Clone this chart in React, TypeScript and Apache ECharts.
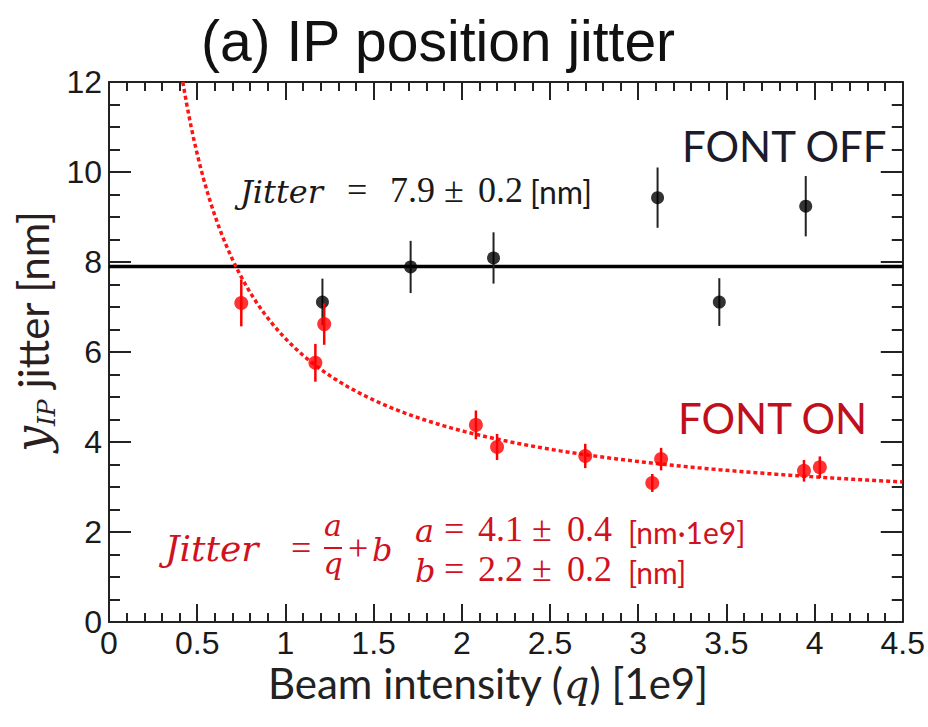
import React, { useEffect, useRef } from "react";
import * as echarts from "echarts";

// FONT OFF: beam intensity [1e9], vertical IP jitter [nm], symmetric error [nm]
const offIntensity = [1.21, 1.71, 2.18, 3.11, 3.46, 3.95];
const offJitter = [7.11, 7.89, 8.09, 9.43, 7.11, 9.24];
const offError = [0.52, 0.58, 0.57, 0.67, 0.53, 0.67];

// FONT ON: beam intensity [1e9], vertical IP jitter [nm], symmetric error [nm]
const onIntensity = [0.75, 1.17, 1.22, 2.08, 2.2, 2.7, 3.08, 3.13, 3.94, 4.03];
const onJitter = [7.09, 5.76, 6.62, 4.38, 3.89, 3.69, 3.09, 3.62, 3.36, 3.44];
const onError = [0.52, 0.42, 0.46, 0.32, 0.29, 0.27, 0.2, 0.25, 0.24, 0.24];

// Fit results quoted on the plot
const offMean = 7.9; // constant fit, FONT OFF
const fitA = 4.1; // a / q + b, FONT ON
const fitB = 2.2;

// Axis ranges
const xRange = [0, 4.5];
const yRange = [0, 12];
const xStep = 0.5;
const yStep = 2;

const SANS = "Lato";
const SERIF = "Liberation Serif";
const MATH_IT = "DejaVu Serif";
const AXIS_FONT = "Liberation Sans";

const ctx = document.createElement("canvas").getContext("2d") as CanvasRenderingContext2D;
function measure(text: string, size: number, family: string, italic?: boolean) {
  ctx.font = `${italic ? "italic " : ""}${size}px '${family}'`;
  return ctx.measureText(text).width;
}

type Piece = {
  t: string;
  size: number;
  family: string;
  italic?: boolean;
  x?: number;
  gap?: number;
  dy?: number;
  align?: string;
};

function textEl(p: Piece, x: number, baseline: number, fill: string) {
  return {
    type: "text",
    x,
    y: baseline + (p.dy || 0) - 0.35 * p.size,
    silent: true,
    z: 100,
    style: {
      text: p.t,
      fontSize: p.size,
      fontFamily: p.family,
      fontStyle: p.italic ? "italic" : "normal",
      fill,
      align: p.align || "left",
      verticalAlign: "middle",
    },
  };
}

// Lay pieces along a baseline; explicit x overrides the running position
function row(parts: Piece[], x0: number, baseline: number, fill: string) {
  let x = x0;
  const els: any[] = [];
  parts.forEach((p) => {
    if (p.x !== undefined) x = p.x;
    x += p.gap || 0;
    els.push(textEl(p, x, baseline, fill));
    x += measure(p.t, p.size, p.family, p.italic);
  });
  return els;
}

function buildFitCurve() {
  const pts: number[][] = [];
  const qStart = fitA / (yRange[1] - fitB);
  for (let q = qStart; q < xRange[1]; q += 0.02) pts.push([q, fitA / q + fitB]);
  pts.push([xRange[1], fitA / xRange[1] + fitB]);
  return pts;
}

function errorBars(xs: number[], ys: number[], errs: number[], color: string, width: number, z: number) {
  return {
    type: "custom",
    z,
    silent: true,
    renderItem: (_params: any, api: any) => {
      const p1 = api.coord([api.value(0), api.value(1)]);
      const p2 = api.coord([api.value(0), api.value(2)]);
      return {
        type: "line",
        shape: { x1: p1[0], y1: p1[1], x2: p2[0], y2: p2[1] },
        style: { stroke: color, lineWidth: width },
      };
    },
    encode: { x: 0, y: [1, 2] },
    data: xs.map((x, i) => [x, ys[i] - errs[i], ys[i] + errs[i]]),
  };
}

function frameAxis(kind: "x" | "y", position: string, showLabel: boolean) {
  const isX = kind === "x";
  return {
    type: "value",
    position,
    min: isX ? xRange[0] : yRange[0],
    max: isX ? xRange[1] : yRange[1],
    interval: isX ? xStep : yStep,
    axisLine: { show: true, onZero: false, lineStyle: { color: "#222", width: 2 } },
    axisTick: { show: true, inside: true, length: isX ? 18 : 22, lineStyle: { color: "#222", width: 2 } },
    minorTick: {
      show: true,
      splitNumber: isX ? 5 : 4,
      length: isX ? 9 : 11,
      lineStyle: { color: "#222", width: 2 },
    },
    splitLine: { show: false },
    minorSplitLine: { show: false },
    axisLabel: {
      show: showLabel,
      fontSize: 32,
      fontFamily: AXIS_FONT,
      color: "#1a1a1a",
      margin: isX ? 5 : 7,
      formatter: (v: number) => String(v),
    },
  };
}

export default function App() {
  const ref = useRef<HTMLDivElement>(null);

  useEffect(() => {
    if (!ref.current) return;
    const chart = echarts.init(ref.current, undefined, { renderer: "svg" });

    const black = "#1a1a1a";
    const red = "#d0121e";

    const graphics: any[] = [];

    // Title
    graphics.push(
      textEl({ t: "(a) IP position jitter", size: 57, family: AXIS_FONT, align: "center" }, 438, 61, "#111")
    );

    // x-axis title
    const xParts: Piece[] = [
      { t: "Beam intensity (", size: 42, family: SANS },
      { t: "q", size: 40, family: MATH_IT, italic: true },
      { t: ") [1e9]", size: 42, family: SANS },
    ];
    const xTitleW = xParts.reduce((s, p) => s + measure(p.t, p.size, p.family, p.italic), 0);
    graphics.push(...row(xParts, 488 - xTitleW / 2, 698, "#222"));

    // y-axis title (rotated, reads bottom to top)
    const yParts: Piece[] = [
      { t: "y", size: 46, family: MATH_IT, italic: true },
      { t: "IP", size: 25, family: MATH_IT, italic: true, dy: 7 },
      { t: " jitter [nm]", size: 42, family: SANS },
    ];
    graphics.push({
      type: "group",
      x: 48,
      y: 452,
      rotation: Math.PI / 2,
      children: row(yParts, 0, 0, "#2a1e1e"),
    });

    // FONT OFF constant fit
    graphics.push(
      ...row(
        [
          { t: "Jitter", size: 32, family: MATH_IT, italic: true, x: 240 },
          { t: "=", size: 36, family: SERIF, x: 347 },
          { t: "7.9", size: 36, family: SERIF, x: 390 },
          { t: "±", size: 36, family: SERIF, x: 444 },
          { t: "0.2", size: 36, family: SERIF, x: 478 },
          { t: "[nm]", size: 32, family: SANS, x: 530 },
        ],
        0,
        203,
        black
      )
    );

    graphics.push(...row([{ t: "FONT OFF", size: 42, family: SANS }], 682, 161, "#1b1b2b"));
    graphics.push(...row([{ t: "FONT ON", size: 42, family: SANS }], 678, 433, "#c0101c"));

    // FONT ON fit formula
    graphics.push(
      ...row(
        [
          { t: "Jitter", size: 36, family: MATH_IT, italic: true, x: 165 },
          { t: "=", size: 36, family: SERIF, x: 291 },
        ],
        0,
        561,
        red
      )
    );
    graphics.push(textEl({ t: "a", size: 30, family: MATH_IT, italic: true, align: "center" }, 333, 536, red));
    graphics.push(textEl({ t: "q", size: 30, family: MATH_IT, italic: true, align: "center" }, 333, 574, red));
    graphics.push({
      type: "line",
      z: 100,
      silent: true,
      shape: { x1: 324, y1: 548, x2: 342, y2: 548 },
      style: { stroke: red, lineWidth: 2 },
    });
    graphics.push(
      ...row(
        [
          { t: "+", size: 36, family: SERIF, x: 348 },
          { t: "b", size: 32, family: MATH_IT, italic: true, x: 372 },
        ],
        0,
        561,
        red
      )
    );
    graphics.push(
      ...row(
        [
          { t: "a", size: 32, family: MATH_IT, italic: true, x: 415 },
          { t: "=", size: 36, family: SERIF, x: 444 },
          { t: "4.1", size: 36, family: SERIF, x: 478 },
          { t: "±", size: 36, family: SERIF, x: 532 },
          { t: "0.4", size: 36, family: SERIF, x: 567 },
          { t: "[nm·1e9]", size: 30, family: SANS, x: 628 },
        ],
        0,
        542,
        red
      )
    );
    graphics.push(
      ...row(
        [
          { t: "b", size: 32, family: MATH_IT, italic: true, x: 415 },
          { t: "=", size: 36, family: SERIF, x: 444 },
          { t: "2.2", size: 36, family: SERIF, x: 478 },
          { t: "±", size: 36, family: SERIF, x: 532 },
          { t: "0.2", size: 36, family: SERIF, x: 567 },
          { t: "[nm]", size: 30, family: SANS, x: 628 },
        ],
        0,
        582,
        red
      )
    );

    chart.setOption({
      animation: false,
      backgroundColor: "#ffffff",
      grid: { left: 109, top: 82, right: 25, bottom: 105, containLabel: false },
      xAxis: [frameAxis("x", "bottom", true), frameAxis("x", "top", false)],
      yAxis: [frameAxis("y", "left", true), frameAxis("y", "right", false)],
      series: [
        {
          type: "line",
          z: 2,
          silent: true,
          symbol: "none",
          data: [
            [xRange[0], offMean],
            [xRange[1], offMean],
          ],
          lineStyle: { color: "#000", width: 3.5 },
        },
        {
          type: "line",
          z: 3,
          silent: true,
          symbol: "none",
          data: buildFitCurve(),
          lineStyle: { color: "#ff1414", width: 3.5, type: [4, 3] },
        },
        errorBars(offIntensity, offJitter, offError, "#222", 2, 4),
        {
          type: "scatter",
          z: 5,
          silent: true,
          symbolSize: 13,
          itemStyle: { color: "#000" },
          data: offIntensity.map((x, i) => [x, offJitter[i]]),
        },
        errorBars(onIntensity, onJitter, onError, "#ff0000", 2.5, 6),
        {
          type: "scatter",
          z: 7,
          silent: true,
          symbolSize: 14,
          itemStyle: { color: "#ff0000" },
          data: onIntensity.map((x, i) => [x, onJitter[i]]),
        },
      ],
      graphic: graphics,
    });

    return () => chart.dispose();
  }, []);

  return (
    <div
      ref={ref}
      style={{ position: "fixed", left: 0, top: 0, width: 928, height: 727, background: "#fff" }}
    />
  );
}
